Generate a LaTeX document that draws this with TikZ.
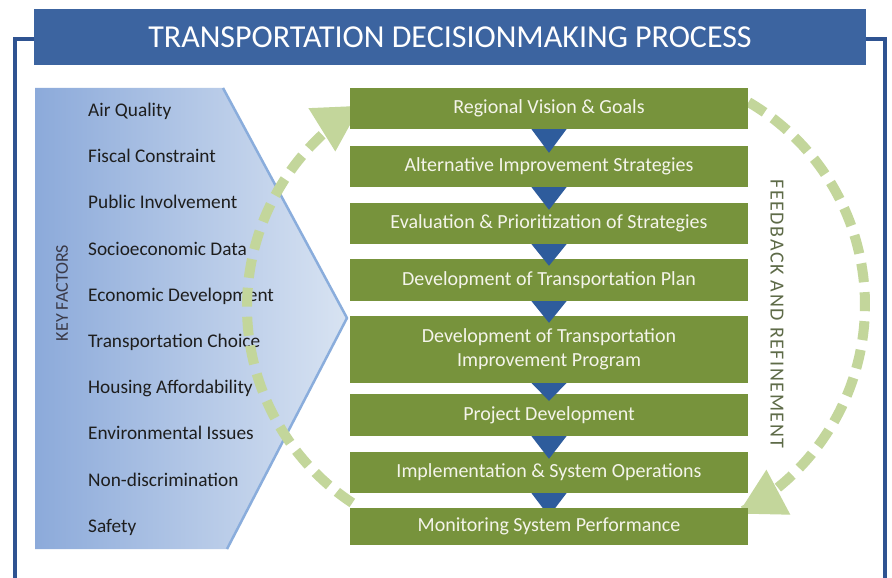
\documentclass[tikz,border=0pt]{standalone}
\usepackage{fontspec}
\setmainfont{Carlito}
\usetikzlibrary{arrows.meta,calc}
\definecolor{framec}{HTML}{2F5391}
\definecolor{titlec}{HTML}{3C64A0}
\definecolor{boxg}{HTML}{77933C}
\definecolor{trib}{HTML}{2E5C9C}
\definecolor{arcg}{HTML}{C3D69B}
\definecolor{pentL}{HTML}{8CAADA}
\definecolor{pentR}{HTML}{D8E3F2}
\definecolor{pentE}{HTML}{8AADDC}
\definecolor{fbtext}{HTML}{5E6B48}
\definecolor{factc}{HTML}{1E1E1E}
\definecolor{keyc}{HTML}{3A3A48}
\definecolor{boxtext}{HTML}{F4F4EA}
\begin{document}
\begin{tikzpicture}[x=1pt,y=-1pt,
  stepbox/.style={fill=boxg, minimum width=398pt, inner sep=0pt, text=boxtext,
    font=\fontsize{20}{24}\selectfont, align=center},
  factor/.style={anchor=base west, inner sep=0pt, text=factc, font=\fontsize{19.3}{22}\selectfont},
  downtri/.style={fill=trib},
  feedback/.style={draw=arcg, line width=10pt, dash pattern=on 19pt off 10pt,
    -{Triangle[length=46pt,width=48pt]}}
]
\useasboundingbox (0,0) rectangle (892,578);
\fill[white] (0,0) rectangle (892,578);
% outer frame
\draw[framec, line width=4pt] (15,600) -- (15,39) -- (885,39) -- (885,600);
% title bar
\fill[titlec] (34,9) rectangle (866,65);
\node[text=white, font=\fontsize{32}{36}\selectfont, inner sep=0pt] (title) at (450,37) {TRANSPORTATION DECISIONMAKING PROCESS};
% key factors pentagon
\shade[left color=pentL, right color=pentR] (35,88) -- (223,88) -- (347,318) -- (227,549) -- (35,549) -- cycle;
\draw[pentE, line width=2.5pt, line join=round] (223,88) -- (347,318) -- (227,549);
\node[rotate=90, text=keyc, font=\fontsize{18}{20}\selectfont, inner sep=0pt] (kf) at (62,293) {KEY FACTORS};
\foreach \t [count=\i] in {Air Quality, Fiscal Constraint, Public Involvement, Socioeconomic Data,
  Economic Development, Transportation Choice, Housing Affordability, Environmental Issues,
  Non-discrimination, Safety}
  \node[factor] (f\i) at (88,{116.5+46.2*(\i-1)}) {\t};
% feedback arcs
\draw[feedback] plot[domain=123.5:239, samples=80] ({482+235*cos(\x)},{307+235*sin(\x)});
\draw[feedback] plot[domain=-59.7:62.7, samples=80] ({630+235*cos(\x)},{305+235*sin(\x)});
% process boxes
\node[stepbox, minimum height=41pt] (b1) at (549,108.5) {Regional Vision \& Goals};
\node[stepbox, minimum height=41pt] (b2) at (549,166.5) {Alternative Improvement Strategies};
\node[stepbox, minimum height=41pt] (b3) at (549,223.5) {Evaluation \& Prioritization of Strategies};
\node[stepbox, minimum height=42pt] (b4) at (549,280) {Development of Transportation Plan};
\node[stepbox, minimum height=67pt] (b5) at (549,349.5) {Development of Transportation\\Improvement Program};
\node[stepbox, minimum height=42pt] (b6) at (549,415) {Project Development};
\node[stepbox, minimum height=41pt] (b7) at (549,472.5) {Implementation \& System Operations};
% last connector triangle sits behind the last box
\fill[downtri] ($(b7.south)+(-17.5,0)$) -- ($(b7.south)+(17.5,0)$) -- ($(b7.south)+(0,23)$) -- cycle;
\node[stepbox, minimum height=37pt] (b8) at (549,526.5) {Monitoring System Performance};
\foreach \a/\b in {b1/b2,b2/b3,b3/b4,b4/b5,b5/b6,b6/b7}
  \fill[downtri] ($(\a.south)+(-17.5,0)$) -- ($(\a.south)+(17.5,0)$) -- ($(\b.north)+(0,7)$) -- cycle;
% feedback label
\node[rotate=-90, text=fbtext, font=\fontsize{20}{22}\selectfont\addfontfeatures{LetterSpace=8}, inner sep=0pt] (fb) at (777,314) {FEEDBACK AND REFINEMENT};
\end{tikzpicture}
\end{document}
